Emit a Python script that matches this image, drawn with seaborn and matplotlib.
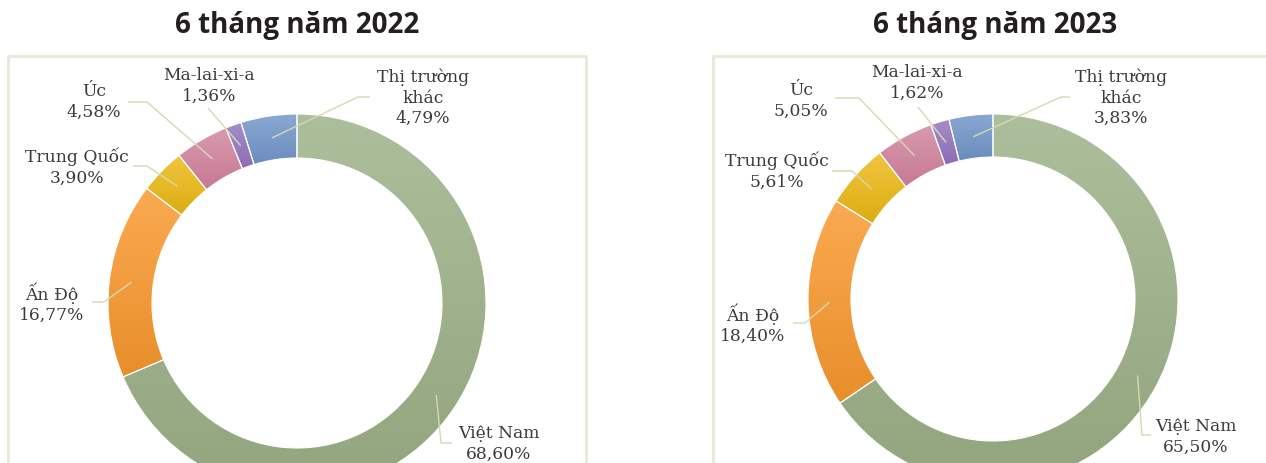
import numpy as np
import matplotlib
matplotlib.use("Agg")
import matplotlib.pyplot as plt
import seaborn as sns

# ---------------- data ----------------
markets = ["Việt Nam", "Ấn Độ", "Trung Quốc", "Úc", "Ma-lai-xi-a", "Thị trường\nkhác"]
share_2022 = [68.60, 16.77, 3.90, 4.58, 1.36, 4.79]
share_2023 = [65.50, 18.40, 5.61, 5.05, 1.62, 3.83]
titles = ["6 tháng năm 2022", "6 tháng năm 2023"]

# ---------------- styles ----------------
top_colors = ["#ADBE9C", "#FBAA52", "#F0C640", "#D89BB0", "#A68DC8", "#8AA8D2"]
bottom_colors = ["#92A57E", "#E88E2A", "#DDAC10", "#C67892", "#8C6CB4", "#6A8CBE"]
text_color = "#3A3A3A"
line_color = "#D8D8B4"
box_color = "#E8E8D6"

W, H = 1266, 463

# layout (pixel coordinates, y measured from the top)
panels = [
    dict(center=(297, 303), radius=189, width=44, box=(8, 56, 586), title_xy=(297, 25),
         label_xy=[(499, 444), (52, 303), (77, 167), (94, 102), (209, 86), (423, 98)],
         knee=[(441, 443), (104, 302), (147, 166), (147, 102), (208, 108), (358, 97)],
         end=[(452, 443), (92, 302), (133, 166), (128, 102), (208, 108), (370, 97)]),
    dict(center=(993, 299), radius=185, width=43, box=(713, 56, 1273), title_xy=(995, 25),
         label_xy=[(1196, 437), (753, 324), (777, 171), (801, 101), (917, 83), (1121, 98)],
         knee=[(1142, 435), (805, 323), (852, 171), (859, 98), (918, 107), (1061, 97)],
         end=[(1151, 435), (793, 323), (832, 171), (835, 98), (918, 107), (1070, 97)]),
]

sns.set_style("white")
plt.rcParams["font.family"] = ["DejaVu Serif"]

fig = plt.figure(figsize=(W / 100, H / 100), dpi=100)
ax = fig.add_axes([0, 0, 1, 1])
ax.set_axis_off()


def fy(y):
    return H - y


for panel, values, title in zip(panels, [share_2022, share_2023], titles):
    cx, cy = panel["center"]
    wedges, _ = ax.pie(values, startangle=90, counterclock=False,
                       center=(cx, fy(cy)), radius=panel["radius"], frame=True,
                       wedgeprops=dict(width=panel["width"], edgecolor="white",
                                       linewidth=0.8, facecolor="none"))
    for w, c0, c1 in zip(wedges, top_colors, bottom_colors):
        w.set_facecolor("none")
        w.set_zorder(3)
        ext = w.get_path().get_extents()
        cmap = sns.blend_palette([c1, c0], as_cmap=True)
        grad = np.linspace(0, 1, 256).reshape(-1, 1)
        im = ax.imshow(grad, cmap=cmap, extent=(ext.x0, ext.x1, ext.y0, ext.y1),
                       origin="lower", aspect="auto", zorder=2, interpolation="bilinear")
        im.set_clip_path(w)

    r_mid = panel["radius"] - panel["width"] / 2
    for w, name, v, lxy, kn, en in zip(wedges, markets, values, panel["label_xy"],
                                       panel["knee"], panel["end"]):
        ang = np.deg2rad((w.theta1 + w.theta2) / 2)
        ax_x = cx + r_mid * np.cos(ang)
        ax_y = fy(cy) + r_mid * np.sin(ang)
        ax.plot([ax_x, kn[0], en[0]], [ax_y, fy(kn[1]), fy(en[1])],
                color=line_color, lw=1.0, zorder=4, solid_capstyle="butt")
        label = f"{name}\n{v:.2f}".replace(".", ",") + "%"
        ax.text(lxy[0], fy(lxy[1]), label, ha="center", va="center",
                fontsize=12.3, color=text_color, linespacing=1.25, zorder=5)

    bx0, btop, bx1 = panel["box"]
    ax.plot([bx0, bx0, bx1, bx1], [-10, fy(btop), fy(btop), -10],
            color=box_color, lw=2, zorder=1, clip_on=True)

    tx, ty = panel["title_xy"]
    ax.text(tx, fy(ty), title, ha="center", va="center", fontsize=20,
            fontweight="bold", family=["Open Sans", "DejaVu Sans"], color="#231F20")

ax.set_xlim(0, W)
ax.set_ylim(0, H)
fig.savefig("out.png", dpi=100, facecolor="white")
